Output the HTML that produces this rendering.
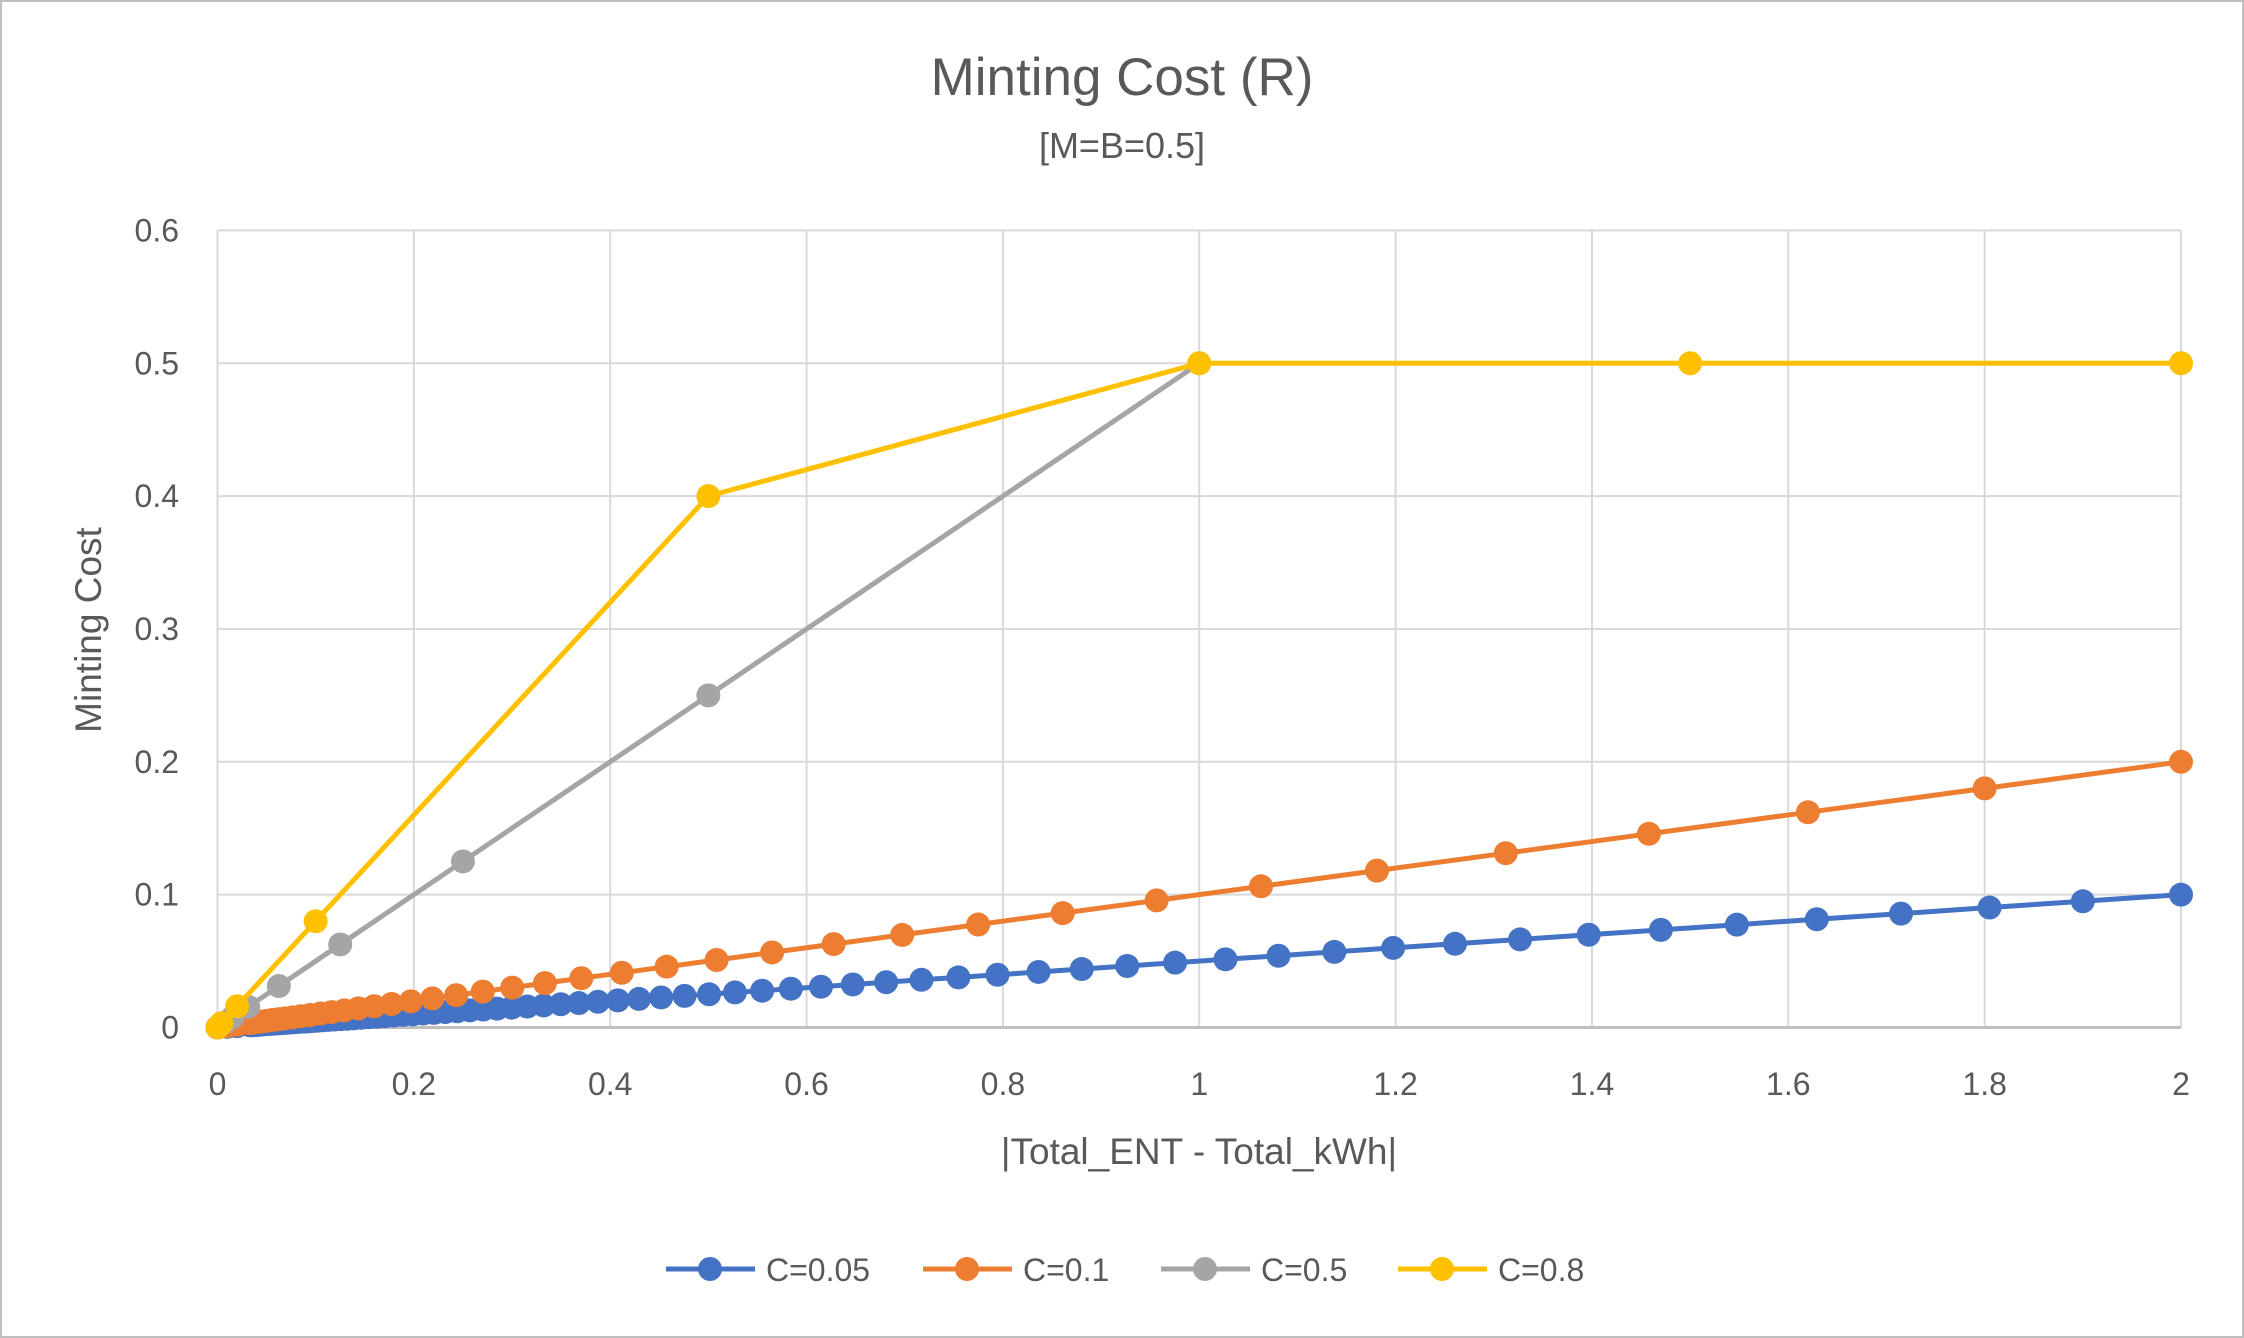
<!DOCTYPE html>
<html><head><meta charset="utf-8"><style>
html,body{margin:0;padding:0;background:#fff;}
svg{display:block;font-family:"Liberation Sans",sans-serif;}
</style></head><body>
<svg id="chart" width="2244" height="1338" viewBox="0 0 2244 1338">
<rect x="1" y="1" width="2242" height="1336" fill="#fff" stroke="#bfbfbf" stroke-width="2"/>
<text x="1122" y="95" text-anchor="middle" font-size="53" fill="#595959">Minting Cost (R)</text>
<text x="1122" y="158" text-anchor="middle" font-size="36" fill="#595959">[M=B=0.5]</text>
<g id="grid"></g>
<g id="ticks"></g>
<g id="series"></g>
<text x="1199" y="1164" text-anchor="middle" font-size="37" fill="#595959">|Total_ENT - Total_kWh|</text>
<text transform="translate(101,630) rotate(-90)" text-anchor="middle" font-size="37" fill="#595959">Minting Cost</text>
<g id="legend"></g>
</svg>
<script>
const xTicks=[0,0.2,0.4,0.6,0.8,1,1.2,1.4,1.6,1.8,2];
const xTickLabels=["0","0.2","0.4","0.6","0.8","1","1.2","1.4","1.6","1.8","2"];
const yTicks=[0,0.1,0.2,0.3,0.4,0.5,0.6];
const yTickLabels=["0","0.1","0.2","0.3","0.4","0.5","0.6"];
const seriesNames=["C=0.05","C=0.1","C=0.5","C=0.8"];
const seriesColors=["#4472c4","#ed7d31","#a5a5a5","#ffc000"];
const blueX=[2,1.9,1.805,1.7148,1.629,1.5476,1.4702,1.3967,1.3268,1.2605,1.1975,1.1376,1.0807,1.0267,0.9754,0.9266,0.8803,0.8363,0.7945,0.7547,0.717,0.6811,0.6471,0.6147,0.584,0.5548,0.5271,0.5007,0.4757,0.4519,0.4293,0.4078,0.3875,0.3681,0.3497,0.3322,0.3156,0.2998,0.2848,0.2706,0.2571,0.2442,0.232,0.2204,0.2094,0.1989,0.189,0.1795,0.1705,0.162,0.1539,0.1462,0.1389,0.132,0.1254,0.1191,0.1131,0.1075,0.1021,0.097,0.0922,0.0875,0.0832,0.079,0.0751,0.0713,0.0677,0.0643,0.0611,0.0581,0.0552,0.0524,0.0498,0.0473,0.0449,0.0427,0.0405,0.0385,0.0366,0.0348,0.033,0.02,0.01,0];
const blueY=[0.1,0.095,0.0903,0.0857,0.0815,0.0774,0.0735,0.0698,0.0663,0.063,0.0599,0.0569,0.054,0.0513,0.0488,0.0463,0.044,0.0418,0.0397,0.0377,0.0359,0.0341,0.0324,0.0307,0.0292,0.0277,0.0264,0.025,0.0238,0.0226,0.0215,0.0204,0.0194,0.0184,0.0175,0.0166,0.0158,0.015,0.0142,0.0135,0.0129,0.0122,0.0116,0.011,0.0105,0.0099,0.0095,0.009,0.0085,0.0081,0.0077,0.0073,0.0069,0.0066,0.0063,0.006,0.0057,0.0054,0.0051,0.0049,0.0046,0.0044,0.0042,0.004,0.0038,0.0036,0.0034,0.0032,0.0031,0.0029,0.0028,0.0026,0.0025,0.0024,0.0022,0.0021,0.002,0.0019,0.0018,0.0017,0.0017,0.001,0.0005,0];
const orangeX=[2,1.8,1.62,1.458,1.3122,1.181,1.0629,0.9566,0.8609,0.7748,0.6974,0.6276,0.5649,0.5084,0.4575,0.4118,0.3706,0.3335,0.3002,0.2702,0.2431,0.2188,0.197,0.1773,0.1595,0.1436,0.1292,0.1163,0.1047,0.0942,0.0848,0.0763,0.0687,0.0618,0.0556,0.0501,0.0451,0.0406,0.0365,0.0328,0.02,0.01,0];
const orangeY=[0.2,0.18,0.162,0.1458,0.1312,0.1181,0.1063,0.0957,0.0861,0.0775,0.0697,0.0628,0.0565,0.0508,0.0458,0.0412,0.0371,0.0334,0.03,0.027,0.0243,0.0219,0.0197,0.0177,0.016,0.0144,0.0129,0.0116,0.0105,0.0094,0.0085,0.0076,0.0069,0.0062,0.0056,0.005,0.0045,0.0041,0.0037,0.0033,0.002,0.001,0];
const grayX=[1,0.5,0.25,0.125,0.0625,0.03125,0.0156,0.0078,0];
const grayY=[0.5,0.25,0.125,0.0625,0.03125,0.0156,0.0078,0.0039,0];
const yellowX=[2,1.5,1,0.5,0.1,0.02,0.004,0];
const yellowY=[0.5,0.5,0.5,0.4,0.08,0.016,0.0032,0];

const X0=217.5,X1=2181,Y0=1027.5,Y1=230.4;
const sx=v=>X0+(v-0)/(2-0)*(X1-X0);
const sy=v=>Y0-(v-0)/(0.6-0)*(Y0-Y1);
const NS="http://www.w3.org/2000/svg";
function mk(tag,attrs,parent){const e=document.createElementNS(NS,tag);for(const k in attrs)e.setAttribute(k,attrs[k]);parent.appendChild(e);return e;}
const grid=document.getElementById('grid'),ticks=document.getElementById('ticks');
xTicks.forEach((t,i)=>{
  const l=mk('line',{x1:sx(t),x2:sx(t),y1:Y1,y2:Y0,stroke:'#d9d9d9','stroke-width':2},grid);
  
  
  const tx=mk('text',{x:sx(t),y:1095,'text-anchor':'middle','font-size':32,fill:'#595959'},ticks);
  tx.textContent=xTickLabels[i];
  
  
});
yTicks.forEach((t,i)=>{
  const l=mk('line',{x1:X0,x2:X1,y1:sy(t),y2:sy(t),stroke:t===0?'#bfbfbf':'#d9d9d9','stroke-width':t===0?3:2},grid);
  
  
  const tx=mk('text',{x:179,y:sy(t)+11,'text-anchor':'end','font-size':32,fill:'#595959'},ticks);
  tx.textContent=yTickLabels[i];
  
  
});
const ser=document.getElementById('series');
const allX=[blueX,orangeX,grayX,yellowX],allY=[blueY,orangeY,grayY,yellowY];
allX.forEach((xs,s)=>{
  const ys=allY[s];const n=Math.min(xs.length,ys.length);
  const g=mk('g',{},ser);
  
  
  let d='';for(let i=0;i<n;i++)d+=(i?'L':'M')+sx(xs[i]).toFixed(1)+' '+sy(ys[i]).toFixed(1);
  const p=mk('path',{d:d,fill:'none',stroke:seriesColors[s],'stroke-width':5,'stroke-linejoin':'round'},g);
  
  
  for(let i=0;i<n;i++){
    const c=mk('circle',{cx:sx(xs[i]),cy:sy(ys[i]),r:12,fill:seriesColors[s]},g);
    
    
  }
});
const leg=document.getElementById('legend');
const legX=[666,923,1161,1398];
seriesNames.forEach((nm,s)=>{
  const g=mk('g',{},leg);
  
  
  mk('line',{x1:legX[s],x2:legX[s]+89,y1:1269,y2:1269,stroke:seriesColors[s],'stroke-width':5},g);
  mk('circle',{cx:legX[s]+44,cy:1269,r:12,fill:seriesColors[s]},g);
  const t=mk('text',{x:legX[s]+100,y:1281,'font-size':32,fill:'#595959'},g);
  t.textContent=nm;
});
</script>
</body></html>
